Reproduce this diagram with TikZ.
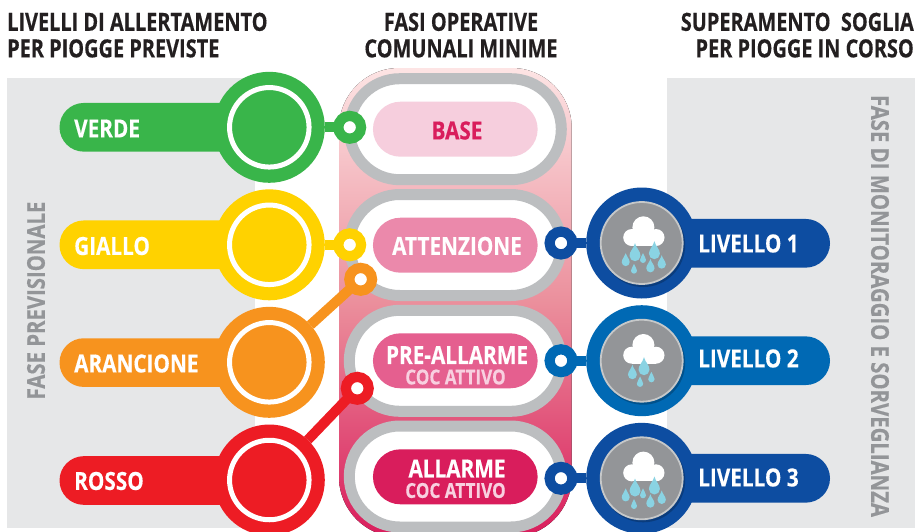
\documentclass[tikz,border=0pt]{standalone}
\usepackage{fontspec}
\setmainfont{Open Sans}[BoldFont={Open Sans Bold},FakeStretch=0.83,BoldFeatures={FakeBold=0.35}]
\newfontfamily\headfont{Open Sans Bold}[FakeStretch=0.797,FakeBold=0.35]
\usetikzlibrary{shapes.misc,fit}
\definecolor{cgreen}{HTML}{39B54A}
\definecolor{cyellow}{HTML}{FFD200}
\definecolor{corange}{HTML}{F7931E}
\definecolor{cred}{HTML}{ED1C24}
\definecolor{cblueA}{HTML}{0D4DA1}
\definecolor{cblueB}{HTML}{0069B4}
\definecolor{bggray}{HTML}{E6E7E8}
\definecolor{ringgray}{HTML}{BCBEC0}
\definecolor{sidegray}{HTML}{939598}
\definecolor{titlec}{HTML}{231F20}
\definecolor{pBase}{HTML}{F6CEDD}
\definecolor{pAtt}{HTML}{EB89AB}
\definecolor{pPre}{HTML}{E55F8F}
\definecolor{pAll}{HTML}{D91D5C}
\definecolor{sublab}{HTML}{F8D0E0}
\definecolor{dropc}{HTML}{8AD3E3}
\definecolor{bandtop}{HTML}{FDE4E4}
\definecolor{bandmid}{HTML}{EB8F9C}
\tikzset{
  px/.style={x=1pt,y=-1pt},
  pillshape/.style={rounded rectangle,inner sep=0pt,outer sep=0pt,minimum width=#1},
  barpill/.style={pillshape=210pt,minimum height=48.7pt},
  bigdisc/.style={circle,inner sep=0pt,outer sep=0pt,minimum size=111pt,fill=#1},
  minidot/.style={circle,inner sep=0pt,outer sep=0pt,minimum size=22.8pt,fill=white,draw=#1,line width=10.2pt},
  wring/.style={circle,inner sep=0pt,outer sep=0pt,minimum size=79.5pt,draw=white,line width=5pt},
  outerpill/.style={pillshape=212pt,minimum height=101pt,fill=white,draw=ringgray,line width=11pt},
  innerpill/.style={pillshape=164.7pt,minimum height=55pt,fill=#1},
  lab/.style={font=\bfseries\fontsize{25}{25}\selectfont,text=white,inner sep=0pt},
  sublabel/.style={font=\bfseries\fontsize{20.6}{20.6}\selectfont,text=sublab,inner sep=0pt},
  headline/.style={font=\headfont\fontsize{25}{26.5}\selectfont,text=titlec,inner sep=0pt,align=#1},
  sidelab/.style={font=\bfseries\fontsize{24.5}{24.5}\selectfont,text=sidegray,inner sep=0pt},
  link/.style={line width=10pt,draw=#1},
}
% teardrop: tip up, #1,#2 position, #3 scale
\newcommand{\raindrop}[3]{%
  \fill[dropc,shift={(#1,#2)},scale=#3]
    (0,-9.5) .. controls (1.2,-4.5) and (5.5,-1.5) .. (5.5,3)
    .. controls (5.5,6) and (3,8.5) .. (0,8.5)
    .. controls (-3,8.5) and (-5.5,6) .. (-5.5,3)
    .. controls (-5.5,-1.5) and (-1.2,-4.5) .. (0,-9.5) -- cycle;}
\newcommand{\raincloud}[2]{%
  \begin{scope}[shift={(#1,#2)}]
    \fill[black,opacity=.22] (1.5,2) circle[radius=42];
    \fill[sidegray] (0,0) circle[radius=41];
    \draw[ringgray!85!white,line width=1.8pt] (0,0) circle[radius=41];
    \fill[white] (1.7,-15.7) circle[radius=11];
    \fill[white] (-10,-5.5) circle[radius=8.5];
    \fill[white] (14.3,-5.5) circle[radius=8.5];
    \fill[white] (-10,-12) rectangle (14.3,3);
  \end{scope}}
\newcommand{\dropsfull}[2]{%
  \begin{scope}[shift={(#1,#2)}]
    \raindrop{-6.7}{9.7}{1}\raindrop{12.7}{7.7}{1}\raindrop{-16}{17}{.72}\raindrop{1.3}{15.3}{.55}
    \raindrop{8.7}{23}{.75}\raindrop{20}{19.3}{.75}\raindrop{-7.7}{26}{.55}
  \end{scope}}
\newcommand{\dropsfew}[2]{%
  \begin{scope}[shift={(#1,#2)}]
    \raindrop{2.3}{6}{1}\raindrop{-9.3}{11.7}{.8}\raindrop{9.7}{16.7}{.58}\raindrop{-1.7}{21.3}{.58}
  \end{scope}}
\begin{document}
\begin{tikzpicture}[px]
\useasboundingbox (0,0) rectangle (918,531);
\fill[white] (0,0) rectangle (918,531);
% backgrounds
\fill[bggray] (7,78) rectangle (255,528);
\fill[bggray] (667,78) rectangle (915,528);
% central band
\begin{scope}
  \clip (0,0) rectangle (918,531);
  \fill[rounded corners=60pt,top color=bandtop,bottom color=pAll,middle color=bandmid]
    (339,68) rectangle (571.7,537);
\end{scope}
% headings
\node[headline=left,anchor=north west] (h1) at (7,12.5) {LIVELLI DI ALLERTAMENTO\\PER PIOGGE PREVISTE};
\node[headline=center,anchor=north] (h2) at (461,12.5) {FASI OPERATIVE\\COMUNALI MINIME};
\node[headline=right,anchor=north east] (h3) at (914,12.5) {SUPERAMENTO\ \ SOGLIA\\PER PIOGGE IN CORSO};
\node[sidelab,rotate=90] (sl) at (36,300.5) {FASE PREVISIONALE};
\node[sidelab,rotate=-90] (sr) at (880,306) {FASE DI MONITORAGGIO E SORVEGLIANZA};
% central pills
\begin{scope}
\clip (0,0) rectangle (918,531);
\node[outerpill] (o1) at (455.3,129.2) {};
\node[outerpill] (o2) at (455.3,245) {};
\node[outerpill] (o3) at (455.3,360.8) {};
\node[outerpill] (o4) at (455.3,476.5) {};
\end{scope}
\node[innerpill=pBase] (i1) at (455.3,129.2) {};
\node[innerpill=pAtt] (i2) at (455.3,245.2) {};
\node[innerpill=pPre] (i3) at (455.3,360.8) {};
\node[innerpill=pAll] (i4) at (455.3,476.8) {};
\node[lab,text=pAll] (t1) at (457,130.5) {BASE};
\node[lab] (t2) at (457,246) {ATTENZIONE};
\node[lab] (t3) at (457,355) {PRE-ALLARME};
\node[sublabel] (s3) at (455.5,377) {COC ATTIVO};
\node[lab] (t4) at (457,468.5) {ALLARME};
\node[sublabel] (s4) at (455.5,490.5) {COC ATTIVO};
% left side
\foreach \nm/\col/\py/\cy in {g/cgreen/127.3/127.3,y/cyellow/244.8/244.8,o/corange/362.6/362.3,r/cred/480.5/480}{
  \node[barpill,fill=\col,anchor=west] (p\nm) at (59.5,\py) {};
  \node[bigdisc=\col] (d\nm) at (269.3,\cy) {};
  \node[wring] (w\nm) at (269.3,\cy) {};
}
\node[minidot=cgreen] (mg) at (349.7,127.3) {};
\node[minidot=cyellow] (my) at (349.7,244.8) {};
\node[minidot=corange] (mo) at (360.7,279.3) {};
\node[minidot=cred] (mr) at (357.3,388.3) {};
\draw[link=cgreen] (dg) -- (mg);
\draw[link=cyellow] (dy) -- (my);
\draw[link=corange] (do) -- (mo);
\draw[link=cred] (dr) -- (mr);
\node[lab,anchor=west] (lg) at (74,128.5) {VERDE};
\node[lab,anchor=west] (ly) at (74,246) {GIALLO};
\node[lab,anchor=west] (lo) at (74,363.5) {ARANCIONE};
\node[lab,anchor=west] (lr) at (74,481) {ROSSO};
% right side
\foreach \nm/\col/\py/\cy in {a/cblueA/243.3/243,b/cblueB/360.7/360.7,c/cblueA/478.3/478.3}{
  \node[barpill,fill=\col,anchor=east] (p\nm) at (830,\py) {};
  \node[bigdisc=\col] (d\nm) at (641.7,\cy) {};
  \raincloud{641.7}{\cy}
}
\dropsfull{641.7}{243}
\dropsfew{641.7}{360.7}
\dropsfull{641.7}{478.3}
\node[minidot=cblueA] (ma) at (561,243) {};
\node[minidot=cblueB] (mb) at (561,360.7) {};
\node[minidot=cblueA] (mc) at (561,478.3) {};
\draw[link=cblueA] (ma) -- (da);
\draw[link=cblueB] (mb) -- (db);
\draw[link=cblueA] (mc) -- (dc);
\node[lab,anchor=west] (la) at (698,243.5) {LIVELLO 1};
\node[lab,anchor=west] (lb) at (698,358.5) {LIVELLO 2};
\node[lab,anchor=west] (lc) at (698,477.5) {LIVELLO 3};
\end{tikzpicture}
\end{document}
